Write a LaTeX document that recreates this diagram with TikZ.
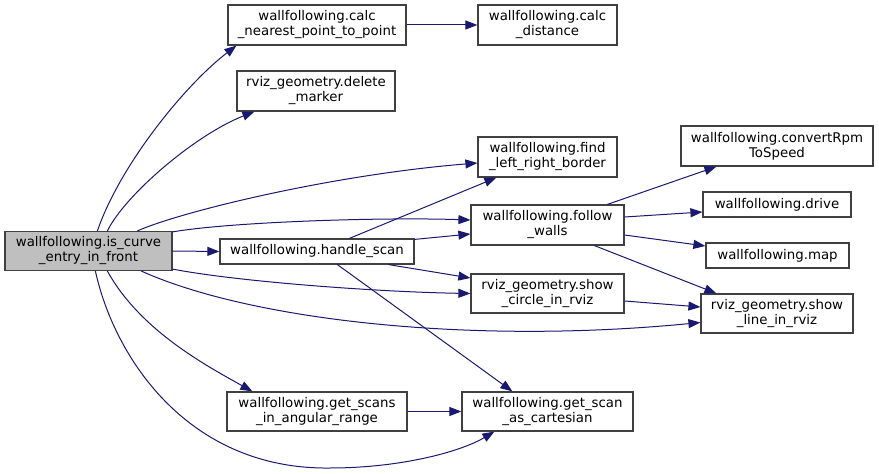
\documentclass[tikz,border=0pt]{standalone}
\usepackage{fontspec}
\setmainfont{DejaVu Sans}
\usetikzlibrary{arrows.meta,calc}
\definecolor{edgeblue}{HTML}{191970}
\definecolor{boxline}{HTML}{404040}
\definecolor{rootfill}{HTML}{BFBFBF}
\begin{document}
\begin{tikzpicture}[x=1bp,y=-1bp,
  fn/.style={draw=boxline,line width=1.2bp,fill=white,inner sep=0pt,align=center,
    font=\fontsize{13.33bp}{15bp}\selectfont,text=black},
  root/.style={fn,fill=rootfill},
  call/.style={draw=edgeblue,line width=1bp,-{Triangle[length=12bp,width=9bp]}}]
\useasboundingbox (0,0) rectangle (879,474);
% nodes
\node[root,minimum width=167bp,minimum height=39bp] (main) at (88.5,251) {wallfollowing.is\_curve\\\_entry\_in\_front};
\node[fn,minimum width=178bp,minimum height=40bp] (cn) at (317,25) {wallfollowing.calc\\\_nearest\_point\_to\_point};
\node[fn,minimum width=139bp,minimum height=40bp] (cd) at (547.5,25) {wallfollowing.calc\\\_distance};
\node[fn,minimum width=158bp,minimum height=40bp] (dm) at (316,91) {rviz\_geometry.delete\\\_marker};
\node[fn,minimum width=139bp,minimum height=40bp] (flr) at (547.5,157) {wallfollowing.find\\\_left\_right\_border};
\node[fn,minimum width=194bp,minimum height=25bp] (hs) at (317,251.5) {wallfollowing.handle\_scan};
\node[fn,minimum width=153bp,minimum height=40bp] (fw) at (547.5,225) {wallfollowing.follow\\\_walls};
\node[fn,minimum width=153bp,minimum height=39bp] (sc) at (547.5,293.5) {rviz\_geometry.show\\\_circle\_in\_rviz};
\node[fn,minimum width=180bp,minimum height=39bp] (gs) at (317,411.5) {wallfollowing.get\_scans\\\_in\_angular\_range};
\node[fn,minimum width=171bp,minimum height=39bp] (gc) at (547.5,411.5) {wallfollowing.get\_scan\\\_as\_cartesian};
\node[fn,minimum width=192bp,minimum height=40bp] (cr) at (777,146) {wallfollowing.convertRpm\\ToSpeed};
\node[fn,minimum width=148bp,minimum height=25bp] (dr) at (777,204.5) {wallfollowing.drive};
\node[fn,minimum width=143bp,minimum height=25bp] (mp) at (777.5,255.5) {wallfollowing.map};
\node[fn,minimum width=152bp,minimum height=39bp] (sl) at (777,313.5) {rviz\_geometry.show\\\_line\_in\_rviz};
% edges from main
\draw[call] ($(main.north west)+(93,0)$) .. controls (120,165) and (185,85) .. ($(cn.south west)+(9,0)$);
\draw[call] ($(main.north west)+(103,0)$) .. controls (125,195) and (195,135) .. ($(dm.south west)+(18,0)$);
\draw[call] ($(main.north west)+(133,0)$) .. controls (180,212) and (330,175) .. ($(flr.west)+(0,6)$);
\draw[call] ($(main.north east)+(0,1)$) .. controls (230,222) and (380,217) .. ($(fw.west)+(0,-5)$);
\draw[call] (main.east) -- (hs.west);
\draw[call] ($(main.south east)+(0,-2)$) .. controls (240,282) and (380,292) .. (sc.west);
\draw[call] ($(main.south west)+(137,0)$) .. controls (250,320) and (470,345) .. ($(sl.west)+(0,9)$);
\draw[call] ($(main.south west)+(103,0)$) .. controls (140,330) and (205,365) .. ($(gs.north west)+(26,0)$);
\draw[call] ($(main.south west)+(91,0)$) .. controls (115,360) and (190,470) .. (330,468)
  .. controls (400,468) and (460,452) .. ($(gc.south west)+(33,0)$);
% edges from handle_scan
\draw[call] ($(hs.north west)+(130,0)$) -- ($(flr.south west)+(19,0)$);
\draw[call] ($(hs.north east)+(0,1)$) -- ($(fw.west)+(0,9)$);
\draw[call] ($(hs.south east)+(-26,0)$) -- ($(sc.west)+(0,-15.5)$);
\draw[call] ($(hs.south west)+(118,0)$) -- ($(gc.north west)+(51,0)$);
% edges from follow_walls
\draw[call] ($(fw.north west)+(137,0)$) -- ($(cr.south west)+(36,0)$);
\draw[call] ($(fw.east)+(0,-8)$) -- ($(dr.west)+(0,7.5)$);
\draw[call] ($(fw.east)+(0,10)$) -- ($(mp.west)+(0,-9.5)$);
\draw[call] ($(fw.south west)+(124,0)$) -- ($(sl.north west)+(16,0)$);
% other edges
\draw[call] ($(sc.east)+(0,7.5)$) -- ($(sl.west)+(0,-6.5)$);
\draw[call] (cn.east) -- (cd.west);
\draw[call] (gs.east) -- (gc.west);
\end{tikzpicture}
\end{document}
